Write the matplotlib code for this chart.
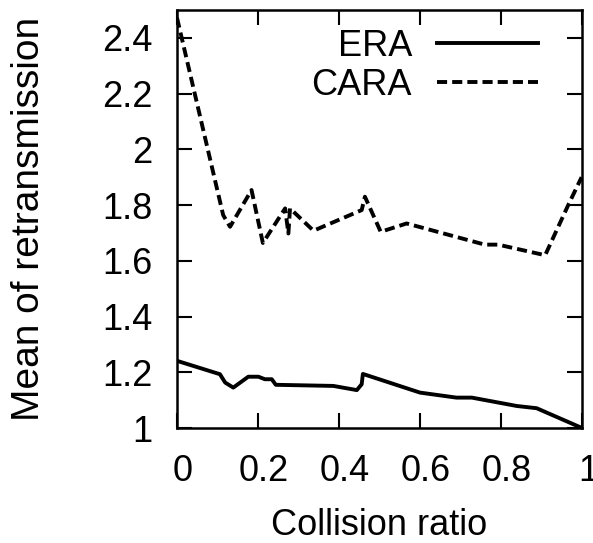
import matplotlib
matplotlib.use("Agg")
import matplotlib.pyplot as plt
import matplotlib.transforms as mtransforms

era_x = [0.0, 0.106, 0.119, 0.139, 0.176, 0.201, 0.217, 0.234, 0.244, 0.386, 0.444, 0.456, 0.459, 0.60, 0.69, 0.728, 0.839, 0.888, 1.0]
era_y = [1.241, 1.193, 1.163, 1.145, 1.184, 1.184, 1.175, 1.175, 1.155, 1.151, 1.136, 1.157, 1.194, 1.127, 1.109, 1.109, 1.079, 1.071, 1.0]

cara_x = [0.0, 0.114, 0.131, 0.184, 0.212, 0.267, 0.275, 0.279, 0.337, 0.456, 0.464, 0.503, 0.567, 0.760, 0.793, 0.909, 0.966, 0.999]
cara_y = [2.472, 1.764, 1.722, 1.854, 1.664, 1.788, 1.698, 1.788, 1.708, 1.782, 1.83, 1.704, 1.734, 1.658, 1.658, 1.62, 1.80, 1.90]

xticks = [0, 0.2, 0.4, 0.6, 0.8, 1]
xticklabels = ["0", "0.2", "0.4", "0.6", "0.8", "1"]
yticks = [1, 1.2, 1.4, 1.6, 1.8, 2, 2.2, 2.4]
yticklabels = ["1", "1.2", "1.4", "1.6", "1.8", "2", "2.2", "2.4"]

plt.rcParams['font.family'] = ['Liberation Sans', 'DejaVu Sans']
FS = 26

fig = plt.figure(figsize=(5.93, 5.43), dpi=100)
ax = fig.add_axes([177/593, 1 - 428/543, 405/593, 418/543])

ax.plot(era_x, era_y, color='black', lw=2.8, label='ERA')
ax.plot(cara_x, cara_y, color='black', lw=2.8, dashes=(2.6, 1.3), label='CARA')

ax.set_xlim(0, 1)
ax.set_ylim(1, 2.5)
ax.set_xticks(xticks)
ax.set_xticklabels(xticklabels, fontsize=FS)
ax.set_yticks(yticks)
ax.set_yticklabels(yticklabels, fontsize=FS)
ax.tick_params(direction='in', length=11, width=1.5, top=True, right=True)
ax.tick_params(axis='x', pad=18.5)
ax.tick_params(axis='y', pad=17.5)
for s in ax.spines.values():
    s.set_linewidth(1.8)

shift = mtransforms.ScaledTranslation(0.06, 0, fig.dpi_scale_trans)
for lbl in ax.get_xticklabels():
    lbl.set_transform(lbl.get_transform() + shift)

ax.set_xlabel('Collision ratio', fontsize=FS, labelpad=14)
ax.set_ylabel('Mean of retransmission', fontsize=28, labelpad=40)

leg = ax.legend(loc='upper right', bbox_to_anchor=((538 - 177) / 405, (428 - 29) / 418), frameon=False,
                fontsize=FS, markerfirst=False, handlelength=2.8, handletextpad=0.69,
                labelspacing=0.1, borderpad=0, borderaxespad=0)
for t in leg.get_texts():
    t.set_ha('right')

fig.savefig('out.png', dpi=100)
